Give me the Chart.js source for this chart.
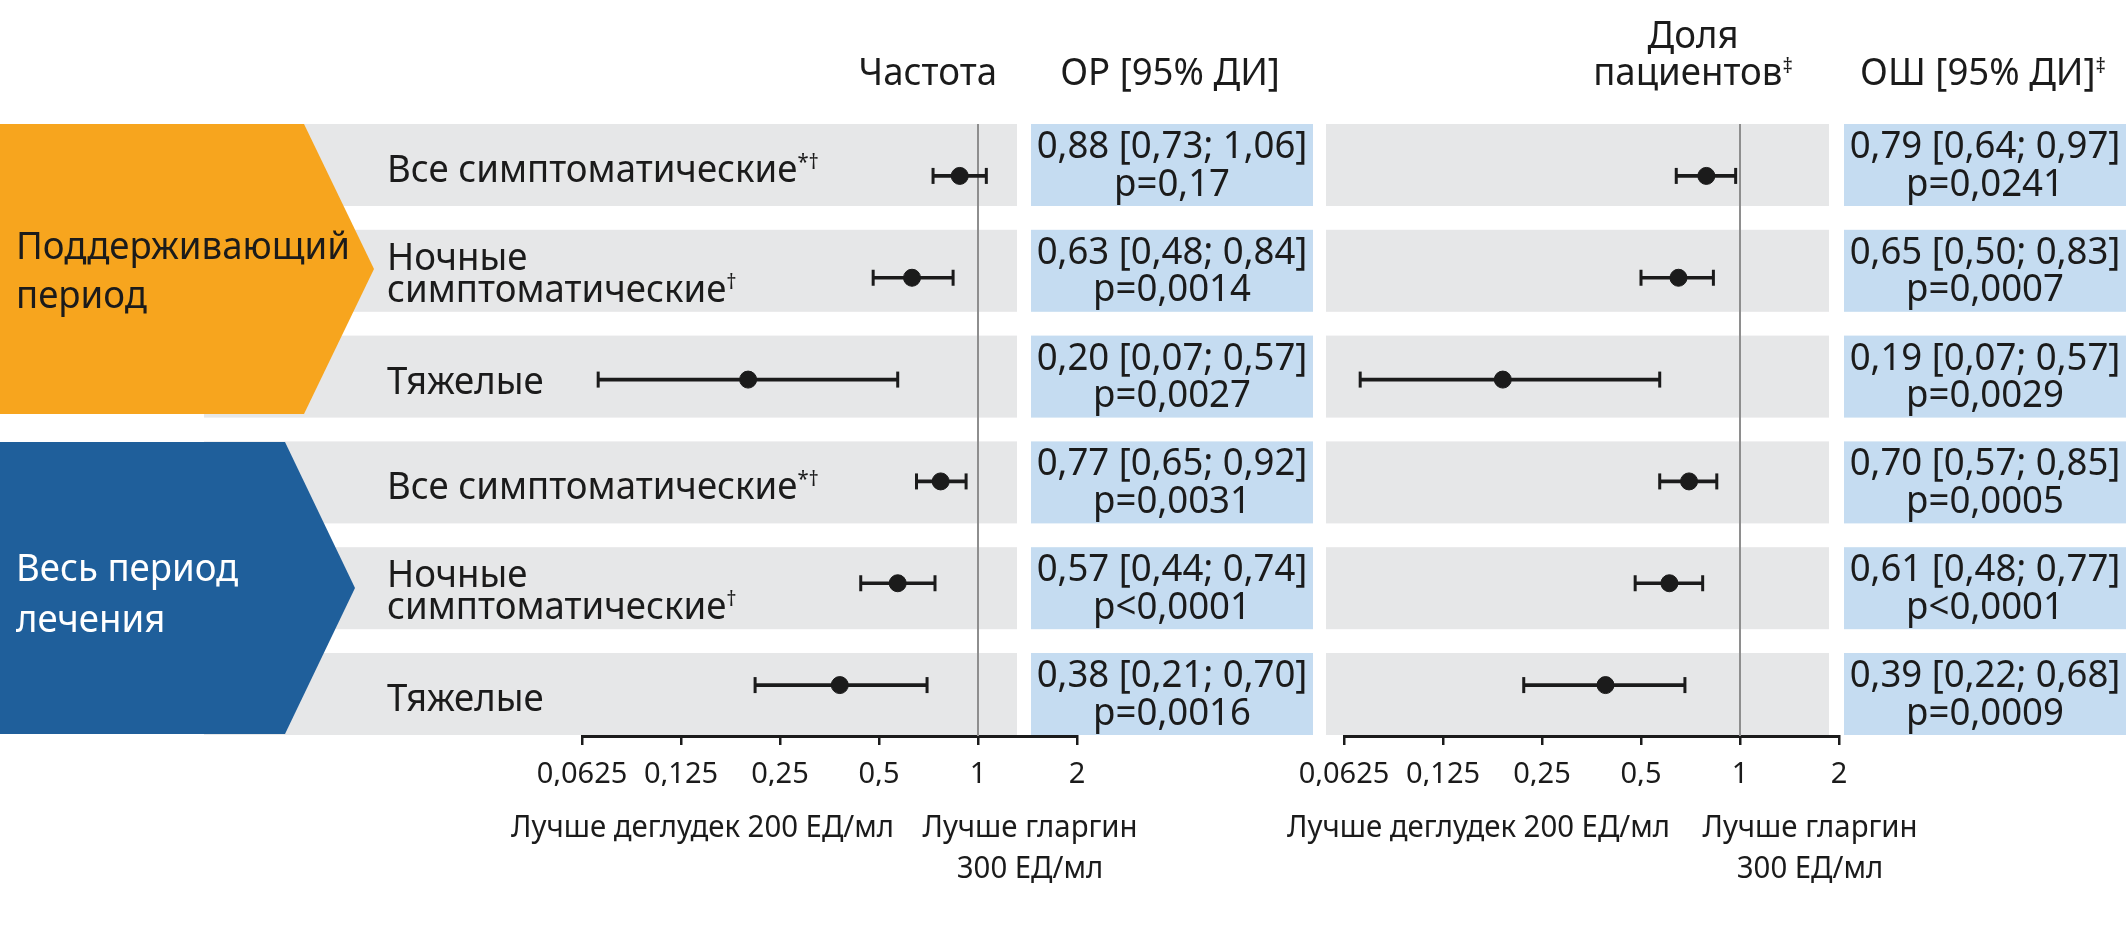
<!DOCTYPE html>
<html>
<head>
<meta charset="utf-8">
<script src="https://cdn.jsdelivr.net/npm/chart.js@4.4.0/dist/chart.umd.min.js"></script>
<style>
html,body{margin:0;padding:0;background:#fff;width:2126px;height:931px;overflow:hidden}
canvas{position:absolute;left:0;top:0}
</style>
</head>
<body>
<canvas id="cLeft" width="2126" height="931"></canvas>
<canvas id="cRight" width="2126" height="931"></canvas>
<script>
// ---------------- DATA ----------------
const categories = ['Все симптоматические', 'Ночные симптоматические', 'Тяжелые',
                    'Все симптоматические', 'Ночные симптоматические', 'Тяжелые'];
const categoryLines = [['Все симптоматические'], ['Ночные', 'симптоматические'], ['Тяжелые'],
                       ['Все симптоматические'], ['Ночные', 'симптоматические'], ['Тяжелые']];
const categoryMarks = ['*†', '†', '', '*†', '†', ''];
const periodLines = [['Поддерживающий', 'период'], ['Весь период', 'лечения']];

// Rate ratio (Частота)
const rrEst = [0.88, 0.63, 0.20, 0.77, 0.57, 0.38];
const rrLo  = [0.73, 0.48, 0.07, 0.65, 0.44, 0.21];
const rrHi  = [1.06, 0.84, 0.57, 0.92, 0.74, 0.70];
const rrP   = ['p=0,17', 'p=0,0014', 'p=0,0027', 'p=0,0031', 'p<0,0001', 'p=0,0016'];

// Odds ratio (Доля пациентов)
const orEst = [0.79, 0.65, 0.19, 0.70, 0.61, 0.39];
const orLo  = [0.64, 0.50, 0.07, 0.57, 0.48, 0.22];
const orHi  = [0.97, 0.83, 0.57, 0.85, 0.77, 0.68];
const orP   = ['p=0,0241', 'p=0,0007', 'p=0,0029', 'p=0,0005', 'p<0,0001', 'p=0,0009'];

const tickValues = [0.0625, 0.125, 0.25, 0.5, 1, 2];
const tickLabels = ['0,0625', '0,125', '0,25', '0,5', '1', '2'];

const leftHeaders = ['Частота', 'ОР [95% ДИ]'];
const rightHeaders = [['Доля', 'пациентов'], 'ОШ [95% ДИ]'];
const headerMark = '‡';
const favourLeft = 'Лучше деглудек 200 ЕД/мл';
const favourRight = ['Лучше гларгин', '300 ЕД/мл'];

// ---------------- STYLE ----------------
const INK = '#1b1b1b';
const FONT = '"Noto Sans", "Open Sans", sans-serif';
const ORANGE = '#F7A51E', BLUE = '#1F5F9B', GRAY = '#E6E7E8', LBLUE = '#C5DCF1', REFLINE = '#8E8E8E';
const MAIN = 38, SUP = 21, CAP = 30, TICK = 29;
let SX = 0.85, SX2 = 0.95;

const bandTop = i => 124 + i * 105.8;
const BAND_H = 82;
const fmt = v => v.toFixed(2).replace('.', ',');

function rich(ctx, parts, x, y, align, color) {
  ctx.save();
  ctx.fillStyle = color;
  ctx.textBaseline = 'alphabetic';
  ctx.textAlign = 'left';
  const widths = parts.map(p => { ctx.font = p.size + 'px ' + FONT; return ctx.measureText(p.s).width * p.sx; });
  const total = widths.reduce((a, b) => a + b, 0);
  let cx = align === 'center' ? x - total / 2 : align === 'right' ? x - total : x;
  parts.forEach((p, i) => {
    ctx.font = p.size + 'px ' + FONT;
    ctx.save();
    ctx.translate(cx, y - (p.dy || 0));
    ctx.scale(p.sx, 1);
    ctx.fillText(p.s, 0, 0);
    ctx.restore();
    cx += widths[i];
  });
  ctx.restore();
}
const M = s => ({ s, size: MAIN, sx: SX });
const S = (s, dy) => ({ s, size: SUP, sx: SX, dy: dy || 13 });
const C = s => ({ s, size: CAP, sx: SX2 });

function chevron(ctx, top, bottom, xEdge, xPoint, color) {
  ctx.fillStyle = color;
  ctx.beginPath();
  ctx.moveTo(0, top);
  ctx.lineTo(xEdge, top);
  ctx.lineTo(xPoint, (top + bottom) / 2);
  ctx.lineTo(xEdge, bottom);
  ctx.lineTo(0, bottom);
  ctx.closePath();
  ctx.fill();
}

function refLine(chart) {
  const ctx = chart.ctx;
  const x = chart.scales.x.getPixelForValue(1);
  ctx.save();
  ctx.strokeStyle = REFLINE;
  ctx.lineWidth = 2;
  ctx.beginPath();
  ctx.moveTo(x, bandTop(0));
  ctx.lineTo(x, chart.chartArea.bottom);
  ctx.stroke();
  ctx.restore();
}

function boxes(ctx, x0, x1, est, lo, hi, p) {
  const cx = (x0 + x1) / 2;
  for (let i = 0; i < est.length; i++) {
    const t = bandTop(i);
    ctx.fillStyle = LBLUE;
    ctx.fillRect(x0, t, x1 - x0, BAND_H);
    rich(ctx, [M(fmt(est[i]) + ' [' + fmt(lo[i]) + '; ' + fmt(hi[i]) + ']')], cx, t + 34, 'center', INK);
    rich(ctx, [M(p[i])], cx, t + 71.5, 'center', INK);
  }
}

const leftDecor = {
  id: 'leftDecor',
  beforeDraw(chart) {
    const ctx = chart.ctx;
    ctx.save();
    ctx.fillStyle = '#fff';
    ctx.fillRect(0, 0, chart.width, chart.height);
    for (let i = 0; i < categories.length; i++) {
      ctx.fillStyle = GRAY;
      ctx.fillRect(204, bandTop(i), 1017 - 204, BAND_H);
    }
    chevron(ctx, 124, 414, 304, 374, ORANGE);
    chevron(ctx, 442, 734, 285, 355, BLUE);
    rich(ctx, [M(periodLines[0][0])], 16, 259, 'left', INK);
    rich(ctx, [M(periodLines[0][1])], 16, 308, 'left', INK);
    rich(ctx, [M(periodLines[1][0])], 16, 581, 'left', '#ffffff');
    rich(ctx, [M(periodLines[1][1])], 16, 632, 'left', '#ffffff');
    for (let i = 0; i < categories.length; i++) {
      const t = bandTop(i);
      const lines = categoryLines[i];
      if (lines.length === 1) {
        rich(ctx, [M(lines[0]), S(categoryMarks[i])], 387, t + 58, 'left', INK);
      } else {
        rich(ctx, [M(lines[0])], 387, t + 40, 'left', INK);
        rich(ctx, [M(lines[1]), S(categoryMarks[i])], 387, t + 72, 'left', INK);
      }
    }
    boxes(ctx, 1031, 1313, rrEst, rrLo, rrHi, rrP);
    rich(ctx, [M(leftHeaders[0])], 997, 85, 'right', INK);
    rich(ctx, [M(leftHeaders[1])], 1170, 85, 'center', INK);
    rich(ctx, [C(favourLeft)], 894, 837, 'right', INK);
    rich(ctx, [C(favourRight[0])], 1030, 837, 'center', INK);
    rich(ctx, [C(favourRight[1])], 1030, 878, 'center', INK);
    ctx.restore();
  },
  beforeDatasetsDraw(chart) { refLine(chart); }
};

const rightDecor = {
  id: 'rightDecor',
  beforeDraw(chart) {
    const ctx = chart.ctx;
    ctx.save();
    for (let i = 0; i < categories.length; i++) {
      ctx.fillStyle = GRAY;
      ctx.fillRect(1326, bandTop(i), 1829 - 1326, BAND_H);
    }
    boxes(ctx, 1844, 2126, orEst, orLo, orHi, orP);
    rich(ctx, [M(rightHeaders[0][0])], 1693, 48, 'center', INK);
    rich(ctx, [M(rightHeaders[0][1]), S(headerMark, 12)], 1693, 85, 'center', INK);
    rich(ctx, [M(rightHeaders[1]), S(headerMark, 12)], 1983, 85, 'center', INK);
    rich(ctx, [C(favourLeft)], 1670, 837, 'right', INK);
    rich(ctx, [C(favourRight[0])], 1810, 837, 'center', INK);
    rich(ctx, [C(favourRight[1])], 1810, 878, 'center', INK);
    ctx.restore();
  },
  beforeDatasetsDraw(chart) { refLine(chart); }
};

function makeChart(id, est, lo, hi, padLeft, padRight, decor) {
  return new Chart(document.getElementById(id), {
    type: 'bar',
    data: {
      labels: categories,
      datasets: [
        { type: 'bar', indexAxis: 'y', data: lo.map((v, i) => [v, hi[i]]), backgroundColor: INK,
          barThickness: 3, borderWidth: 0, order: 3 },
        { type: 'line', indexAxis: 'y', data: lo, showLine: false, pointStyle: 'line', pointRotation: 90,
          pointRadius: 8, pointBorderWidth: 3, pointBorderColor: INK, borderColor: INK, order: 2 },
        { type: 'line', indexAxis: 'y', data: hi, showLine: false, pointStyle: 'line', pointRotation: 90,
          pointRadius: 8, pointBorderWidth: 3, pointBorderColor: INK, borderColor: INK, order: 2 },
        { type: 'line', indexAxis: 'y', data: est, showLine: false, pointStyle: 'circle',
          pointRadius: 8.5, pointBorderWidth: 1, pointBackgroundColor: INK, pointBorderColor: INK,
          borderColor: INK, order: 1 }
      ]
    },
    options: {
      indexAxis: 'y',
      responsive: false,
      maintainAspectRatio: false,
      animation: false,
      devicePixelRatio: 1,
      events: [],
      layout: { padding: { left: padLeft, right: padRight, top: 125, bottom: 145 } },
      plugins: { legend: { display: false }, tooltip: { enabled: false } },
      scales: {
        x: {
          type: 'logarithmic', position: 'bottom', min: 0.0625, max: 2, bounds: 'data',
          afterBuildTicks: s => { s.ticks = tickValues.map(v => ({ value: v })); },
          afterFit: s => { s.height = 50; },
          border: { display: true, color: INK, width: 3 },
          grid: { display: true, drawOnChartArea: false, drawTicks: true, tickLength: 9,
                  color: INK, tickColor: INK, tickWidth: 2.5, lineWidth: 2.5 },
          ticks: { autoSkip: false, maxRotation: 0, minRotation: 0, padding: 12, color: INK,
                   font: { family: 'Noto Sans', size: TICK },
                   callback: (v, i) => tickLabels[i] }
        },
        y: { type: 'category', display: false, offset: true }
      }
    },
    plugins: [decor]
  });
}

let built = false;
function build() {
  if (built) return;
  built = true;
  const m = document.createElement('canvas').getContext('2d');
  m.font = MAIN + 'px ' + FONT;
  SX = 334 / m.measureText('Поддерживающий').width;
  m.font = CAP + 'px ' + FONT;
  SX2 = 383 / m.measureText(favourLeft).width;
  makeChart('cLeft', rrEst, rrLo, rrHi, 582, 2126 - 1077, leftDecor);
  makeChart('cRight', orEst, orLo, orHi, 1344, 2126 - 1839, rightDecor);
}
if (document.fonts && document.fonts.load) {
  Promise.all([document.fonts.load(MAIN + 'px "Noto Sans"'), document.fonts.load(TICK + 'px "Noto Sans"')])
    .then(build, build);
  setTimeout(build, 1500);
} else {
  build();
}
</script>
</body>
</html>
